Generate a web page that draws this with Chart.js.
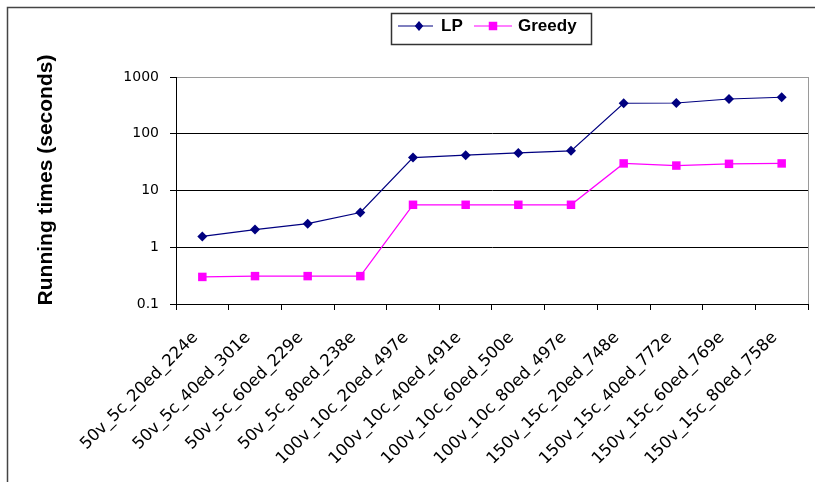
<!DOCTYPE html>
<html>
<head>
<meta charset="utf-8">
<script src="https://cdn.jsdelivr.net/npm/chart.js@4/dist/chart.umd.min.js"></script>
<style>
  html, body { margin: 0; padding: 0; background: #fff; }
  canvas { display: block; }
</style>
</head>
<body>
<canvas id="c" width="815" height="482"></canvas>
<script>
// Problem instances (vertices / colours / edge density / edges)
const categories = [
  '50v_5c_20ed_224e', '50v_5c_40ed_301e', '50v_5c_60ed_229e', '50v_5c_80ed_238e',
  '100v_10c_20ed_497e', '100v_10c_40ed_491e', '100v_10c_60ed_500e', '100v_10c_80ed_497e',
  '150v_15c_20ed_748e', '150v_15c_40ed_772e', '150v_15c_60ed_769e', '150v_15c_80ed_758e'
];
// Running times in seconds
const lpTimes = [1.55, 2.05, 2.6, 4.1, 38, 42, 46, 50, 345, 348, 410, 440];
const greedyTimes = [0.30, 0.31, 0.31, 0.31, 5.6, 5.6, 5.6, 5.6, 30, 27.5, 29.5, 30];
const yTicks = [0.1, 1, 10, 100, 1000];
const yTitle = 'Running times (seconds)';

const LP_COLOR = '#000080';
const GREEDY_COLOR = '#FF00FF';

// Outer frame, plot-area border, axis title and boxed legend
const decorations = {
  id: 'decorations',
  beforeDraw(chart) {
    const ctx = chart.ctx;
    const a = chart.chartArea;
    ctx.save();
    ctx.fillStyle = '#fff';
    ctx.fillRect(0, 0, chart.width, chart.height);
    ctx.strokeStyle = '#9a9a9a';
    ctx.lineWidth = 1;
    ctx.strokeRect(Math.round(a.left) + 0.5, Math.round(a.top) + 0.5,
                   Math.round(a.right - a.left), Math.round(a.bottom - a.top));
    ctx.restore();
  },
  afterDraw(chart) {
    const ctx = chart.ctx;
    ctx.save();
    // outer frame
    ctx.strokeStyle = '#444';
    ctx.lineWidth = 1.5;
    ctx.strokeRect(7.5, 7.5, 900, 900);

    // y-axis title
    ctx.save();
    ctx.translate(46, 180);
    ctx.rotate(-Math.PI / 2);
    ctx.fillStyle = '#000';
    ctx.font = 'bold 21px "Liberation Sans", Arial, sans-serif';
    ctx.textAlign = 'center';
    ctx.textBaseline = 'middle';
    ctx.fillText(yTitle, 0, 0);
    ctx.restore();

    // legend box
    const bx = 391, by = 13, bw = 200, bh = 31;
    ctx.fillStyle = '#fff';
    ctx.fillRect(bx, by, bw, bh);
    ctx.strokeStyle = '#333';
    ctx.lineWidth = 1.5;
    ctx.strokeRect(bx + 0.5, by + 0.5, bw, bh);

    const items = [
      { x0: 398, x1: 433, mx: 419, tx: 441 },
      { x0: 474, x1: 512, mx: 493, tx: 518 }
    ];
    const ly = 26;
    chart.data.datasets.forEach((ds, i) => {
      const it = items[i];
      ctx.strokeStyle = ds.borderColor;
      ctx.lineWidth = 1.2;
      ctx.beginPath();
      ctx.moveTo(it.x0, ly);
      ctx.lineTo(it.x1, ly);
      ctx.stroke();
      ctx.fillStyle = ds.pointBackgroundColor;
      ctx.beginPath();
      if (ds.pointStyle === 'rectRot') {
        const r = ds.pointRadius;
        ctx.moveTo(it.mx, ly - r);
        ctx.lineTo(it.mx + r * 0.85, ly);
        ctx.lineTo(it.mx, ly + r);
        ctx.lineTo(it.mx - r * 0.85, ly);
        ctx.closePath();
      } else {
        const s = ds.pointRadius * Math.SQRT1_2;
        ctx.rect(it.mx - s, ly - s, 2 * s, 2 * s);
      }
      ctx.fill();
      ctx.fillStyle = '#000';
      ctx.font = 'bold 17px "Liberation Sans", Arial, sans-serif';
      ctx.textAlign = 'left';
      ctx.textBaseline = 'middle';
      ctx.fillText(ds.label, it.tx, ly + 0.5);
    });
    ctx.restore();
  }
};

new Chart(document.getElementById('c'), {
  type: 'line',
  data: {
    labels: categories,
    datasets: [
      {
        label: 'LP',
        data: lpTimes,
        borderColor: LP_COLOR,
        backgroundColor: LP_COLOR,
        pointBackgroundColor: LP_COLOR,
        pointBorderColor: LP_COLOR,
        borderWidth: 1.2,
        pointStyle: 'rectRot',
        pointRadius: 5,
        pointBorderWidth: 0,
        tension: 0
      },
      {
        label: 'Greedy',
        data: greedyTimes,
        borderColor: GREEDY_COLOR,
        backgroundColor: GREEDY_COLOR,
        pointBackgroundColor: GREEDY_COLOR,
        pointBorderColor: GREEDY_COLOR,
        borderWidth: 1.2,
        pointStyle: 'rect',
        pointRadius: 6,
        pointBorderWidth: 0,
        tension: 0
      }
    ]
  },
  options: {
    responsive: false,
    animation: false,
    devicePixelRatio: 1,
    layout: { padding: { left: 0, top: 77, right: 7, bottom: 0 } },
    plugins: {
      legend: { display: false },
      tooltip: { enabled: false }
    },
    scales: {
      x: {
        type: 'category',
        offset: true,
        grid: {
          offset: true,
          drawOnChartArea: false,
          drawTicks: true,
          tickLength: 6,
          color: '#000',
          lineWidth: 1
        },
        border: { display: true, color: '#000', width: 1 },
        ticks: {
          autoSkip: false,
          minRotation: 45,
          maxRotation: 45,
          padding: 18,
          labelOffset: -7,
          color: '#000',
          font: { family: '"DejaVu Sans", sans-serif', size: 16.5 }
        },
        afterFit(scale) { scale.height = 178; }
      },
      y: {
        type: 'logarithmic',
        min: 0.1,
        max: 1000,
        afterBuildTicks(scale) {
          scale.ticks = yTicks.map(v => ({ value: v }));
        },
        afterFit(scale) { scale.width = 176; },
        grid: {
          color: ctx => (ctx.tick && ctx.tick.value === 1000) ? '#9a9a9a' : '#000',
          tickColor: '#000',
          lineWidth: 1,
          tickLength: 6,
          drawTicks: true
        },
        border: { display: true, color: '#000', width: 1 },
        ticks: {
          padding: 11,
          color: '#000',
          font: { family: '"DejaVu Sans", sans-serif', size: 14 },
          callback: v => String(v)
        }
      }
    }
  },
  plugins: [decorations]
});
</script>
</body>
</html>
